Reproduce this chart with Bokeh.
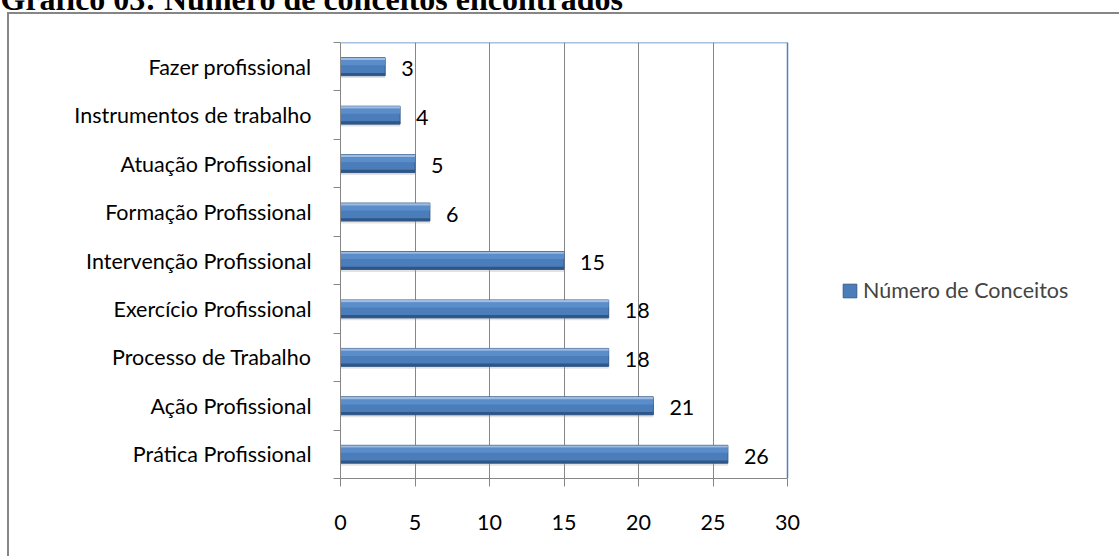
from bokeh.plotting import figure
from bokeh.models import (ColumnDataSource, Range1d, FixedTicker, LabelSet,
                          Legend, LegendItem)
from bokeh.core.properties import value
from bokeh.transform import dodge
from bokeh.embed import file_html
from bokeh.resources import INLINE

# ---- data ----
categories = ["Prática Profissional", "Ação Profissional", "Processo de Trabalho",
              "Exercício Profissional", "Intervenção Profissional", "Formação Profissional",
              "Atuação Profissional", "Instrumentos de trabalho", "Fazer profissional"]
values = [26, 21, 18, 18, 15, 6, 5, 4, 3]
x_ticks = [0, 5, 10, 15, 20, 25, 30]
series_name = "Número de Conceitos"
title_text = "Gráfico 03: Número de conceitos encontrados"

positions = list(range(1, len(categories) + 1))
FONT = "Lato"
FS = "21.5px"
SHIFT = 50          # part of the canvas hidden above the window (title is cut off)
W, H_WIN = 1119, 556
F_LEFT, F_RIGHT_AXIS, F_TOP, F_BOTTOM = 340, 787, 42, 478

x_max = x_ticks[-1]
x_end = x_max * (W - F_LEFT) / (F_RIGHT_AXIS - F_LEFT)
y_lo, y_hi = 0.5, len(categories) + 0.5

src = ColumnDataSource(dict(y=positions, v=values, lab=[str(v) for v in values]))

p = figure(width=W, height=H_WIN + SHIFT, output_backend="svg", toolbar_location=None,
           x_range=Range1d(0, x_end), y_range=Range1d(y_lo, y_hi),
           min_border_left=F_LEFT, min_border_right=0, min_border_top=F_TOP + SHIFT,
           min_border_bottom=H_WIN - F_BOTTOM)
p.styles = {
    "margin-top": f"-{SHIFT}px",
    "background-color": "white",
    "background-image": "linear-gradient(#868686, #868686), linear-gradient(#868686, #868686)",
    "background-size": "2000px 2px, 2px 2000px",
    "background-position": f"7px {12 + SHIFT}px, 7px {12 + SHIFT}px",
    "background-repeat": "no-repeat",
}
p.background_fill_color = "white"
p.border_fill_color = None
p.outline_line_color = None

# title (only its lower part is inside the window)
p.title.text = title_text
p.title.text_font = "Liberation Serif"
p.title.text_font_style = "bold"
p.title.text_font_size = "32px"
p.title.align = "left"
p.title.offset = -F_LEFT
p.title.standoff = 51
p.title.text_color = "black"

xa = p.xaxis[0]
xa.ticker = FixedTicker(ticks=x_ticks)
xa.bounds = (0, x_max)
xa.axis_line_color = "#868686"
xa.major_tick_line_color = "#868686"
xa.major_tick_out = 8
xa.major_tick_in = 0
xa.minor_tick_line_color = None
xa.major_label_text_font = FONT
xa.major_label_text_font_size = FS
xa.major_label_text_color = "black"
xa.major_label_standoff = 28

ya = p.yaxis[0]
ya.ticker = FixedTicker(ticks=positions, minor_ticks=[i + 0.5 for i in range(len(categories) + 1)])
ya.major_label_overrides = {pos: c for pos, c in zip(positions, categories)}
ya.axis_line_color = "#868686"
ya.major_tick_line_color = None
ya.major_tick_out = 0
ya.major_tick_in = 0
ya.minor_tick_line_color = "#868686"
ya.minor_tick_out = 7
ya.minor_tick_in = 0
ya.major_label_text_font = FONT
ya.major_label_text_font_size = FS
ya.major_label_text_color = "black"
ya.major_label_standoff = 22

p.xgrid.ticker = FixedTicker(ticks=x_ticks)
p.xgrid.grid_line_color = "#868686"
p.xgrid.grid_line_width = 1
p.ygrid.grid_line_color = None

# plot-area border (top and right edges)
p.segment(x0=[0, x_max], y0=[y_hi, y_lo], x1=[x_max, x_max], y1=[y_hi, y_hi],
          line_color="#4F81BD", line_width=1.5)

BH = 0.37
p.hbar(y=dodge("y", -0.05, range=p.y_range), right="v", left=0, height=BH, source=src,
       fill_color="#a0a0a0", fill_alpha=0.3, line_color=None)
bar = p.hbar(y="y", right="v", left=0, height=BH, source=src,
             fill_color="#4A7DBA", line_color="#385D8A", line_width=1)
p.hbar(y=dodge("y", 0.085, range=p.y_range), right="v", left=0, height=0.11, source=src,
       fill_color="#5B8DCB", line_color=None)
p.hbar(y=dodge("y", 0.16, range=p.y_range), right="v", left=0, height=0.045, source=src,
       fill_color="#9DBCE4", line_color=None)
p.hbar(y=dodge("y", -0.155, range=p.y_range), right="v", left=0, height=0.055, source=src,
       fill_color="#2E5686", line_color=None)

labels = LabelSet(x="v", y="y", text="lab", source=src, x_offset=16, y_offset=-2,
                  text_align="left", text_baseline="middle",
                  text_font=value(FONT), text_font_size=value(FS), text_color="black")
p.add_layout(labels)

legend = Legend(items=[LegendItem(label=series_name, renderers=[bar])],
                location=(501, 175), padding=0, margin=0, spacing=0,
                glyph_width=17, glyph_height=17, label_standoff=5,
                label_text_font=FONT, label_text_font_size=FS,
                border_line_color=None, background_fill_alpha=0)
p.add_layout(legend, "center")

open("out.html", "w").write(file_html(p, INLINE))
